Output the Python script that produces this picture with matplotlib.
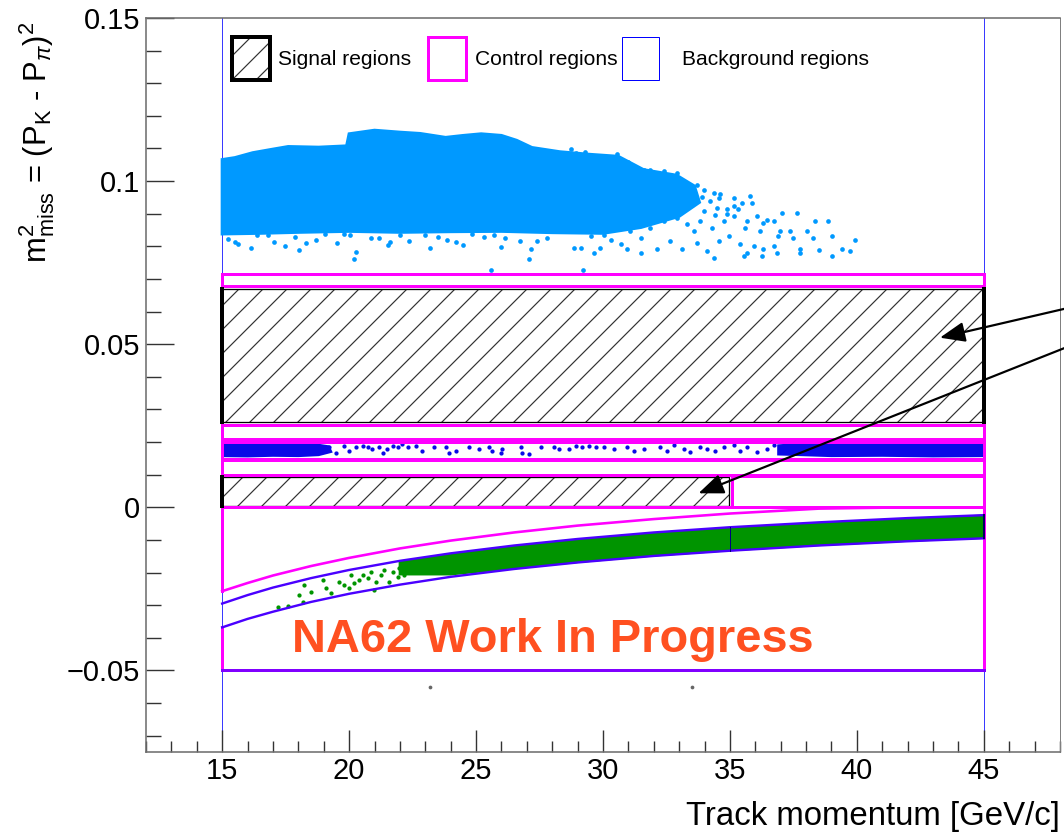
import matplotlib
matplotlib.use('Agg')
import matplotlib.pyplot as plt
from matplotlib.patches import Rectangle, Polygon
from matplotlib.ticker import MultipleLocator

plt.rcParams['font.family'] = ['Liberation Sans', 'DejaVu Sans']
plt.rcParams['mathtext.fontset'] = 'custom'
plt.rcParams['mathtext.rm'] = 'Liberation Sans'
plt.rcParams['mathtext.it'] = 'Liberation Sans:italic'
plt.rcParams['mathtext.bf'] = 'Liberation Sans:bold'
plt.rcParams['hatch.linewidth'] = 1.2

# ---------------- data ----------------
x_ticks = [15, 20, 25, 30, 35, 40, 45]
y_ticks = [-0.05, 0.0, 0.05, 0.1, 0.15]
y_tick_labels = ['\u22120.05', '0', '0.05', '0.1', '0.15']

# signal regions (hatched)
sig_x0 = [15.0, 15.0]
sig_x1 = [45.0, 34.95]
sig_y0 = [0.0261, 0.0004]
sig_y1 = [0.0669, 0.0092]

# control regions (magenta boxes)
ctl_x0 = [15.0, 15.0, 15.0, 15.0, 35.1]
ctl_x1 = [45.0, 45.0, 45.0, 45.0, 45.0]
ctl_y0 = [0.0679, 0.0210, 0.0149, 0.0100, 0.0]
ctl_y1 = [0.0715, 0.0253, 0.0200, 0.0144, 0.0095]

# lower control region frame
low_x0, low_x1, low_y0, low_y1 = 15.0, 45.0, -0.05, 0.0

# kinematic curves
curve_p = [15, 16, 17, 18.5, 20, 22, 24, 26.5, 29, 32, 35, 38.5, 42, 45]
curve_magenta = [-0.0257, -0.0232, -0.0209, -0.0180, -0.0155, -0.0126, -0.0102,
                 -0.0077, -0.0056, -0.0036, -0.0019, -0.0004, 0.0, 0.0]
curve_blue_hi = [-0.0295, -0.0269, -0.0246, -0.0217, -0.0192, -0.0164, -0.0141,
                 -0.0117, -0.0097, -0.0077, -0.0061, -0.0046, -0.0033, -0.0024]
curve_blue_lo = [-0.0368, -0.0342, -0.0320, -0.0290, -0.0265, -0.0237, -0.0213,
                 -0.0189, -0.0169, -0.0149, -0.0133, -0.0117, -0.0104, -0.0095]

# K -> pi pi pi cloud (light blue): dense core outline
lb_core_x = [15.0, 15.5, 16.2, 17.0, 17.6, 18.8, 19.9, 20.0, 21.0, 22.0, 22.8, 23.8,
             24.5, 25.2, 26.0, 26.6, 27.2, 28.3, 29.5, 30.6, 31.6, 32.9, 33.6,
             33.8, 33.0, 31.5, 30.0,
             28.0, 26.0, 24.0, 22.0, 20.0, 18.0, 16.5, 15.0]
lb_core_y = [0.1066, 0.1072, 0.1087, 0.1098, 0.1106, 0.1104, 0.1108, 0.1145, 0.1156,
             0.1150, 0.1146, 0.1134, 0.1140, 0.1145, 0.1140, 0.1125, 0.1103, 0.1090,
             0.1082, 0.1076, 0.1035, 0.1018, 0.0985,
             0.0935, 0.0892, 0.0858, 0.0840,
             0.0842, 0.0846, 0.0845, 0.0843, 0.0846, 0.0843, 0.0840, 0.0838]
# light blue scattered events
lb_pts_x = [28.72, 28.92, 30.56, 30.69, 31.61, 31.87, 32.65, 32.92, 33.70, 33.97,
            34.36, 34.56, 35.15, 35.47, 35.80, 35.87, 36.06, 36.46, 36.72, 37.05,
            37.66, 38.36, 38.88, 39.01, 39.93, 39.40, 39.73, 39.01, 38.49, 37.77,
            37.50, 38.03, 36.91, 36.19, 36.32, 35.67, 35.15, 34.88, 34.49, 34.75,
            34.29, 33.83, 33.57, 33.31, 32.92, 32.26, 32.65, 32.00, 31.48, 31.15,
            31.74, 32.26, 32.92, 33.31, 32.39, 31.87, 31.48, 31.08, 30.69, 30.30,
            29.90, 29.64, 29.12, 28.85, 29.51, 30.03, 30.95, 31.48, 32.13, 32.65,
            33.11, 33.70, 34.10, 34.56, 34.95, 35.41, 35.67, 35.93, 36.32, 36.72,
            36.98, 37.37, 34.36, 36.26, 35.54, 37.77, 38.29, 36.85, 33.97, 34.62,
            35.15, 35.60, 33.51, 34.20, 34.90, 35.30, 33.90, 34.40,
            15.23, 15.64, 16.14, 17.05, 17.46, 18.04, 18.70, 19.53, 20.28, 20.86,
            21.52, 22.35, 23.17, 23.84, 24.50, 25.32, 25.99, 26.73, 27.15, 27.81,
            16.39, 17.88, 19.04, 20.03, 21.19, 22.01, 23.50, 24.83, 26.15,
            15.50, 16.80, 18.30, 19.80, 21.60, 23.00, 24.20, 25.70, 27.40,
            28.10, 29.30, 30.20, 31.00, 32.40,
            25.57, 29.21, 20.20, 27.07]
lb_pts_y = [0.1097, 0.1086, 0.1083, 0.1066, 0.1035, 0.1035, 0.1020, 0.1025, 0.0989, 0.0974,
            0.0964, 0.0949, 0.0949, 0.0933, 0.0954, 0.0933, 0.0892, 0.0882, 0.0877, 0.0903,
            0.0903, 0.0879, 0.0879, 0.0831, 0.0819, 0.0791, 0.0786, 0.0770, 0.0788, 0.0791,
            0.0826, 0.0847, 0.0831, 0.0847, 0.0872, 0.0877, 0.0923, 0.0913, 0.0918, 0.0877,
            0.0857, 0.0877, 0.0847, 0.0867, 0.0888, 0.0913, 0.0938, 0.0954, 0.0969, 0.0984,
            0.0989, 0.0979, 0.0974, 0.0964, 0.0877, 0.0857, 0.0826, 0.0847, 0.0806, 0.0821,
            0.0796, 0.0780, 0.0796, 0.0796, 0.0831, 0.0836, 0.0791, 0.0780, 0.0791, 0.0816,
            0.0791, 0.0811, 0.0786, 0.0816, 0.0831, 0.0806, 0.0780, 0.0801, 0.0791, 0.0801,
            0.0847, 0.0847, 0.0765, 0.0770, 0.0770, 0.0781, 0.0826, 0.0781, 0.0908, 0.0959,
            0.0893, 0.0857, 0.0928, 0.0940, 0.0900, 0.0915, 0.0950, 0.0895,
            0.0822, 0.0806, 0.0796, 0.0814, 0.0801, 0.0788, 0.0818, 0.0809, 0.0782, 0.0826,
            0.0805, 0.0815, 0.0796, 0.0821, 0.0803, 0.0830, 0.0798, 0.0816, 0.0791, 0.0826,
            0.0836, 0.0828, 0.0838, 0.0834, 0.0827, 0.0836, 0.0830, 0.0838, 0.0825,
            0.0812, 0.0834, 0.0810, 0.0838, 0.0814, 0.0836, 0.0812, 0.0835, 0.0816,
            0.1085, 0.1090, 0.1070, 0.1060, 0.1030,
            0.0727, 0.0727, 0.0760, 0.0760]

# K -> pi pi0 band (blue): dense parts outlines + sparse events
db_left_x = [15.0, 15.0, 16.0, 17.0, 18.0, 18.7, 19.2, 19.3, 18.8, 18.0, 17.0, 16.0]
db_left_y = [0.0157, 0.0196, 0.0197, 0.0195, 0.0196, 0.0193, 0.0187, 0.0170, 0.0160,
             0.0157, 0.0158, 0.0156]
db_right_x = [36.9, 36.9, 38.0, 40.0, 42.0, 45.0, 45.0, 43.0, 41.0, 39.0, 37.8]
db_right_y = [0.0162, 0.0190, 0.0196, 0.0195, 0.0197, 0.0196, 0.0157, 0.0156, 0.0158,
              0.0157, 0.0160]
db_pts_x = [19.22, 19.48, 19.81, 20.01, 20.27, 20.53, 20.73, 20.92, 21.19, 21.32,
            21.51, 21.71, 21.91, 22.10, 22.30, 22.63, 22.89, 23.35, 23.81, 23.94,
            24.20, 24.73, 25.12, 25.51, 25.64, 25.97, 26.04, 26.76, 26.82, 27.09,
            27.54, 28.07, 28.27, 28.66, 28.92, 29.18, 29.44, 29.71,
            30.03, 30.43, 30.95, 31.21, 31.61, 32.26, 32.53, 32.79, 33.18, 33.44,
            33.84, 34.10, 34.43, 34.75, 35.15, 35.41, 35.67, 36.06, 36.46, 36.72]
db_pts_y = [0.0184, 0.0168, 0.0189, 0.0173, 0.0184, 0.0189, 0.0184, 0.0178, 0.0184, 0.0168,
            0.0178, 0.0189, 0.0184, 0.0194, 0.0184, 0.0189, 0.0173, 0.0184, 0.0184, 0.0168,
            0.0173, 0.0184, 0.0178, 0.0184, 0.0173, 0.0168, 0.0178, 0.0184, 0.0168, 0.0163,
            0.0184, 0.0184, 0.0178, 0.0178, 0.0189, 0.0184, 0.0189, 0.0184,
            0.0184, 0.0179, 0.0184, 0.0174, 0.0179, 0.0184, 0.0174, 0.0190, 0.0179, 0.0169,
            0.0184, 0.0179, 0.0174, 0.0184, 0.0190, 0.0174, 0.0184, 0.0169, 0.0179, 0.0190]

# K -> mu nu band (green): dense part + sparse events
gr_x = [22.0, 24.0, 26.5, 29.0, 32.0, 35.0, 38.5, 42.0, 45.0]
gr_top = [-0.0168, -0.0145, -0.0120, -0.0100, -0.0080, -0.0064, -0.0049, -0.0036, -0.0026]
gr_bot = [-0.0205, -0.0205, -0.0186, -0.0167, -0.0147, -0.0131, -0.0115, -0.0102, -0.0093]
gr_pts_x = [17.19, 17.58, 18.04, 18.24, 18.50, 18.17, 18.96, 19.29, 19.09, 19.61,
            19.81, 20.07, 20.01, 20.20, 20.40, 20.53, 20.73, 20.86, 20.99, 21.06,
            21.25, 21.38, 21.58, 21.71, 21.91, 21.97, 22.17, 22.30, 22.50, 22.63, 22.83]
gr_pts_y = [-0.0305, -0.0303, -0.0269, -0.0239, -0.0259, -0.0290, -0.0223, -0.0264,
            -0.0246, -0.0228, -0.0239, -0.0208, -0.0246, -0.0233, -0.0223, -0.0208,
            -0.0218, -0.0198, -0.0254, -0.0228, -0.0208, -0.0193, -0.0228, -0.0198,
            -0.0213, -0.0187, -0.0208, -0.0183, -0.0198, -0.0177, -0.0193]

# stray events (gray)
gray_x = [23.18, 33.52]
gray_y = [-0.055, -0.055]

# ---------------- figure ----------------
DPI = 72
W, H = 1064, 836
fig = plt.figure(figsize=(W / DPI, H / DPI), dpi=DPI)
ax = fig.add_axes([146 / W, 1 - 752 / H, 914 / W, 734 / H])
ax.set_xlim(12, 48)
ax.set_ylim(-0.075, 0.15)

MAG = '#ff00ff'
BLUE = '#0000ff'
CURVE = '#4a00ff'
LBLUE = '#0099ff'
DBLUE = '#0a0ae6'
GREEN = '#009400'

# background region boundaries (vertical thin blue lines)
for xv in (low_x0, low_x1):
    ax.axvline(xv, color='#3a3aff', lw=1.0, zorder=1)

# signal regions: hatch
for x0, x1, y0, y1 in zip(sig_x0, sig_x1, sig_y0, sig_y1):
    ax.add_patch(Rectangle((x0, y0), x1 - x0, y1 - y0, facecolor='none',
                           edgecolor='#333333', hatch='/', lw=0, zorder=2))
    ax.add_patch(Rectangle((x0, y0), x1 - x0, y1 - y0, facecolor='none',
                           edgecolor='black', lw=1.3, zorder=3))

# clouds
ax.add_patch(Polygon(list(zip(lb_core_x, lb_core_y)), closed=True, facecolor=LBLUE,
                     edgecolor=LBLUE, lw=3, zorder=2))
ax.scatter(lb_pts_x, lb_pts_y, s=22, color=LBLUE, linewidths=0, zorder=2)

for px, py in ((db_left_x, db_left_y), (db_right_x, db_right_y)):
    ax.add_patch(Polygon(list(zip(px, py)), closed=True, facecolor=DBLUE,
                         edgecolor=DBLUE, lw=2, zorder=2))
ax.scatter(db_pts_x, db_pts_y, s=18, color=DBLUE, linewidths=0, zorder=2)

gpoly = list(zip(gr_x, gr_top)) + list(zip(gr_x[::-1], gr_bot[::-1]))
ax.add_patch(Polygon(gpoly, closed=True, facecolor=GREEN, edgecolor=GREEN, lw=2.5, zorder=2))
ax.scatter(gr_pts_x, gr_pts_y, s=18, color=GREEN, linewidths=0, zorder=2)

ax.scatter(gray_x, gray_y, s=14, color='#666666', linewidths=0, zorder=2)

# control boxes
for x0, x1, y0, y1 in zip(ctl_x0, ctl_x1, ctl_y0, ctl_y1):
    ax.add_patch(Rectangle((x0, y0), x1 - x0, y1 - y0, facecolor='none',
                           edgecolor=MAG, lw=3, zorder=4))

# lower control region frame
ax.plot([low_x0, low_x1], [low_y1, low_y1], color=MAG, lw=3, zorder=4, solid_capstyle='projecting')
ax.plot([low_x0, low_x0], [low_y1, curve_magenta[0]], color=MAG, lw=3, zorder=4)
ax.plot([low_x0, low_x0], [curve_blue_lo[0], low_y0], color=MAG, lw=3, zorder=4)
ax.plot([low_x1, low_x1], [low_y1, low_y0], color=MAG, lw=3, zorder=4)
ax.plot([low_x0, low_x1], [low_y0, low_y0], color='#8000ff', lw=3, zorder=4,
        solid_capstyle='projecting')

# curves
ax.plot(curve_p, curve_magenta, color=MAG, lw=2.6, zorder=5)
ax.plot(curve_p, curve_blue_hi, color=CURVE, lw=2.4, zorder=5)
ax.plot(curve_p, curve_blue_lo, color=CURVE, lw=2.4, zorder=5)
i35 = curve_p.index(35)
ax.plot([35, 35], [curve_blue_hi[i35], curve_blue_lo[i35]], color='#000080', lw=1, zorder=5)
ax.plot([45, 45], [curve_blue_hi[-1], curve_blue_lo[-1]], color='#000060', lw=2, zorder=5)

# thick signal edges
ax.plot([sig_x0[0], sig_x0[0]], [sig_y0[0], sig_y1[0]], color='black', lw=4, zorder=6)
ax.plot([sig_x1[0], sig_x1[0]], [sig_y0[0], sig_y1[0]], color='black', lw=4, zorder=6)
ax.plot([sig_x0[1], sig_x0[1]], [sig_y0[1], sig_y1[1]], color='black', lw=4, zorder=6)

# arrows from off-chart label
for tip, tail in (((43.27, 0.0520), (48.2, 0.0609)), ((33.76, 0.0043), (48.2, 0.0489))):
    ax.annotate('', xy=tip, xytext=tail,
                arrowprops=dict(arrowstyle='-|>,head_length=0.85,head_width=0.34',
                                color='black', lw=2.2, mutation_scale=25,
                                shrinkA=0, shrinkB=0),
                annotation_clip=False, zorder=7)

# watermark text
ax.text(0.1597, 0.1362, 'NA62 Work In Progress', transform=ax.transAxes,
        fontsize=47, fontweight='bold', color='#ff5020', ha='left', va='baseline', zorder=8)

# legend (manual, ROOT style)
leg_box_y0, leg_box_y1 = 0.9155, 0.9741
ax.add_patch(Rectangle((0.0941, leg_box_y0), 0.0416, leg_box_y1 - leg_box_y0,
                       transform=ax.transAxes, facecolor='none', edgecolor='#333333',
                       hatch='/', lw=0, zorder=6))
ax.add_patch(Rectangle((0.0941, leg_box_y0), 0.0416, leg_box_y1 - leg_box_y0,
                       transform=ax.transAxes, facecolor='none', edgecolor='black',
                       lw=4, zorder=6))
ax.add_patch(Rectangle((0.3085, leg_box_y0), 0.0416, leg_box_y1 - leg_box_y0,
                       transform=ax.transAxes, facecolor='none', edgecolor=MAG,
                       lw=3, zorder=6))
ax.add_patch(Rectangle((0.5208, leg_box_y0), 0.0405, leg_box_y1 - leg_box_y0,
                       transform=ax.transAxes, facecolor='none', edgecolor=BLUE,
                       lw=1, zorder=6))
for tx, lab in ((0.1444, 'Signal regions'), (0.3600, 'Control regions'),
                (0.5864, 'Background regions')):
    ax.text(tx, 0.944, lab, transform=ax.transAxes, fontsize=21, ha='left',
            va='center', color='black', zorder=6)

# axes styling (ROOT-like)
for side in ('left', 'bottom', 'top'):
    ax.spines[side].set_color('#707070')
    ax.spines[side].set_linewidth(1.6)
ax.spines['right'].set_color('#808080')
ax.spines['right'].set_linewidth(1.0)

ax.set_xticks(x_ticks)
ax.set_xticklabels([str(v) for v in x_ticks])
ax.set_yticks(y_ticks)
ax.set_yticklabels(y_tick_labels)
ax.xaxis.set_minor_locator(MultipleLocator(1))
ax.yaxis.set_minor_locator(MultipleLocator(0.01))
ax.tick_params(axis='both', which='both', direction='in', top=False, right=False,
               color='#333333', width=1.4, labelsize=29)
ax.tick_params(axis='y', which='major', length=28, pad=6)
ax.tick_params(axis='y', which='minor', length=15)
ax.tick_params(axis='x', which='major', length=22, pad=5)
ax.tick_params(axis='x', which='minor', length=11)

fig.text(1060 / W, 4 / H, 'Track momentum [GeV/c]', fontsize=33, ha='right', va='bottom')
fig.text(37 / W, 1 - 22 / H, r'$\mathrm{m^{2}_{miss}}$ = (P$_{\mathrm{K}}$ - P$_{\pi}$)$^{2}$',
         fontsize=31, rotation=90, ha='center', va='top')

fig.savefig('out.png', dpi=DPI)
